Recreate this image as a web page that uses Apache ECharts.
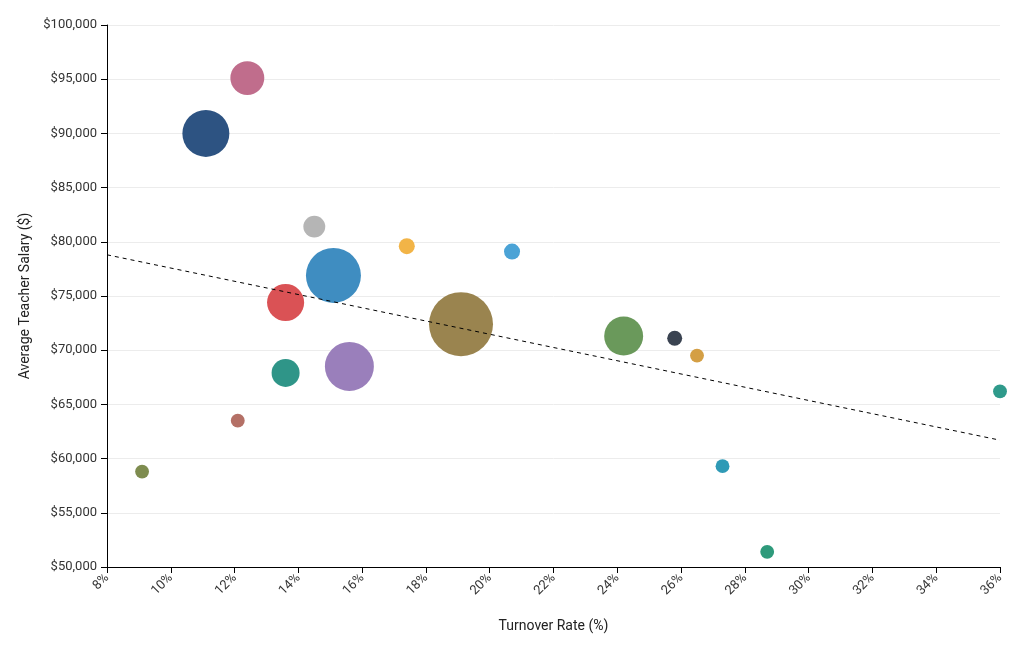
<!DOCTYPE html>
<html>
<head>
<meta charset="utf-8">
<script src="https://cdn.jsdelivr.net/npm/echarts@6/dist/echarts.min.js"></script>
<style>html,body{margin:0;padding:0;background:#fff}#c{width:1020px;height:650px}</style>
</head>
<body>
<div id="c"></div>
<script>
var turnover = [12.4, 11.1, 14.5, 17.4, 20.7, 15.1, 13.6, 19.1, 24.2, 25.8, 26.5, 13.6, 15.6, 36.0, 12.1, 9.1, 27.3, 28.7];
var salary   = [95100, 90000, 81400, 79600, 79100, 76900, 74400, 72400, 71300, 71100, 69500, 67900, 68500, 66200, 63500, 58800, 59300, 51400];
var sizeVal  = [72, 138, 30, 16, 16, 189, 86, 256, 95, 14, 12, 49, 150, 12, 12, 12, 12, 12];
var colors   = ['#c06d8c', '#2d5382', '#b5b5b5', '#f2b447', '#4ba3d6', '#3f8dc1', '#da5255', '#9a844f', '#6a995b', '#3a4351', '#d49f45', '#2f9588', '#9a7fbb', '#2f9a8b', '#b47066', '#7e8c4f', '#2f9ab6', '#2e9a7b'];
var trendX = [8, 36];
var trendY = [78800, 61700];
var xTicks = [8, 10, 12, 14, 16, 18, 20, 22, 24, 26, 28, 30, 32, 34, 36];

var pts = turnover.map(function (x, i) {
  return { value: [x, salary[i], sizeVal[i]], itemStyle: { color: colors[i] } };
});

var chart = echarts.init(document.getElementById('c'));
chart.setOption({
  animation: false,
  textStyle: { fontFamily: 'Roboto' },
  grid: { left: 107, right: 20, top: 25, bottom: 83 },
  xAxis: {
    type: 'value', min: xTicks[0], max: xTicks[xTicks.length - 1], interval: 2,
    name: 'Turnover Rate (%)', nameLocation: 'middle', nameGap: 52,
    nameTextStyle: { fontSize: 14, color: '#222', fontFamily: 'Roboto' },
    axisLine: { show: true, lineStyle: { color: '#000', width: 1 } },
    axisTick: { show: true, length: 6, lineStyle: { color: '#000' } },
    axisLabel: { rotate: 45, fontSize: 13, color: '#333', margin: 9, formatter: function (v) { return v + '%'; } },
    splitLine: { show: false }
  },
  yAxis: {
    type: 'value', min: 50000, max: 100000, interval: 5000,
    name: 'Average Teacher Salary ($)', nameLocation: 'middle', nameGap: 71, nameRotate: 90,
    nameTextStyle: { fontSize: 14, color: '#222', fontFamily: 'Roboto' },
    axisLine: { show: true, lineStyle: { color: '#000', width: 1 } },
    axisTick: { show: true, length: 6, lineStyle: { color: '#000' } },
    axisLabel: { fontSize: 13, color: '#333', margin: 10, formatter: function (v) { return '$' + v.toLocaleString('en-US'); } },
    splitLine: { show: true, lineStyle: { color: '#ececec', width: 1 } }
  },
  series: [
    {
      type: 'scatter',
      clip: false,
      data: pts,
      symbolSize: function (v) { return 4 * Math.sqrt(v[2]); },
      itemStyle: { opacity: 1 }
    },
    {
      type: 'line',
      data: trendX.map(function (x, i) { return [x, trendY[i]]; }),
      showSymbol: false,
      symbol: 'none',
      lineStyle: { color: '#000', width: 1, type: [4, 4] },
      z: 5,
      silent: true
    }
  ]
});
</script>
</body>
</html>
